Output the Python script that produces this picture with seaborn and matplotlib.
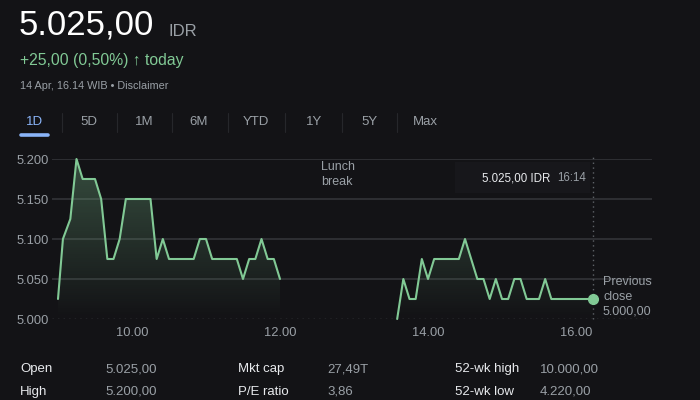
import numpy as np
import pandas as pd
import seaborn as sns
import matplotlib.pyplot as plt
from matplotlib.lines import Line2D
from matplotlib.patches import Rectangle
from matplotlib.colors import to_rgb

# intraday prices (IDR), 14 Apr
morning_time = ["09:00", "09:04", "09:10", "09:15", "09:20", "09:30", "09:35", "09:40", "09:45",
                "09:50", "09:55", "10:15", "10:20", "10:25", "10:30", "10:50", "10:55", "11:00",
                "11:05", "11:25", "11:30", "11:35", "11:40", "11:45", "11:50", "11:55", "12:00"]
morning_price = [5025, 5100, 5125, 5200, 5175, 5175, 5150, 5075, 5075,
                 5100, 5150, 5150, 5075, 5100, 5075, 5075, 5100, 5100,
                 5075, 5075, 5050, 5075, 5075, 5100, 5075, 5075, 5050]
afternoon_time = ["13:35", "13:40", "13:45", "13:50", "13:55", "14:00", "14:05", "14:25", "14:30",
                  "14:35", "14:40", "14:45", "14:50", "14:55", "15:00", "15:05", "15:10", "15:15",
                  "15:20", "15:30", "15:35", "15:40", "16:14"]
afternoon_price = [5000, 5050, 5025, 5025, 5075, 5050, 5075, 5075, 5100,
                   5075, 5050, 5050, 5025, 5050, 5025, 5025, 5050, 5050,
                   5025, 5025, 5050, 5025, 5025]
prev_close = 5000
y_ticks = [5000, 5050, 5100, 5150, 5200]
y_labels = ["5.000", "5.050", "5.100", "5.150", "5.200"]
x_ticks = [10, 12, 14, 16]
x_labels = ["10.00", "12.00", "14.00", "16.00"]
tabs = ["1D", "5D", "1M", "6M", "YTD", "1Y", "5Y", "Max"]
stats_left = [("Open", "5.025,00"), ("High", "5.200,00")]
stats_mid = [("Mkt cap", "27,49T"), ("P/E ratio", "3,86")]
stats_right = [("52-wk high", "10.000,00"), ("52-wk low", "4.220,00")]

BG = "#131316"
GREEN = "#81c995"
GREY = "#9aa0a6"
GRID = "#36373b"
WHITE = "#e8eaed"


def to_hours(times):
    return [int(t[:2]) + int(t[3:]) / 60 for t in times]


df = pd.concat([
    pd.DataFrame({"hour": to_hours(morning_time), "price": morning_price, "session": "am"}),
    pd.DataFrame({"hour": to_hours(afternoon_time), "price": afternoon_price, "session": "pm"}),
])

sns.set_theme(style="dark")
plt.rcParams["font.family"] = ["Liberation Sans", "DejaVu Sans"]

fig = plt.figure(figsize=(7, 4), dpi=100, facecolor=BG)


def px(x, y):
    return x / 700, 1 - y / 400


ax = fig.add_axes([52 / 700, 81 / 400, 600 / 700, 160 / 400], facecolor=BG)
ax.set_xlim(8.919, 17.027)
ax.set_ylim(5000, 5200)

# grid
for v in y_ticks[1:]:
    ax.axhline(v, color=GRID, lw=1.1, zorder=0)
ax.axhline(prev_close, color="#5f6368", lw=1.0, ls=(0, (1, 3)), zorder=0)

# gradient fill under each session
grad = np.zeros((100, 1, 4))
grad[..., :3] = to_rgb(GREEN)
grad[..., 3] = np.linspace(0.32, 0.0, 100)[:, None]
for s, g in df.groupby("session"):
    poly = ax.fill_between(g["hour"], g["price"], prev_close, color="none", lw=0)
    im = ax.imshow(grad, extent=[8.9, 17.1, 5000, 5200], aspect="auto", origin="upper", zorder=1)
    im.set_clip_path(poly.get_paths()[0], transform=ax.transData)

sns.lineplot(data=df, x="hour", y="price", units="session", estimator=None,
             color=GREEN, lw=1.5, ax=ax, zorder=3, clip_on=False)
ax.plot(df["hour"].iloc[-1], df["price"].iloc[-1], "o", color=GREEN, ms=7, zorder=4)

# cursor line at 16:14
ax.axvline(df["hour"].iloc[-1], ymin=0, ymax=1.03, color="#5f6368", lw=1, ls=(0, (1, 2.5)),
           zorder=2, clip_on=False)

ax.set_xticks(x_ticks)
ax.set_xticklabels(x_labels)
ax.set_yticks(y_ticks)
ax.set_yticklabels(y_labels)
ax.tick_params(axis="x", colors="#5f6368", labelcolor=GREY, labelsize=9.3, length=3, width=1, pad=3)
ax.tick_params(axis="y", labelcolor=GREY, labelsize=9.3, length=0, pad=2)
ax.set_xlabel("")
ax.set_ylabel("")
ax.grid(False)
for sp in ax.spines.values():
    sp.set_visible(False)

# header
fig.text(*px(19, 25), "5.025,00", color="#ffffff", fontsize=25, va="center")
fig.text(*px(168, 32), "IDR", color=GREY, fontsize=12, va="center")
fig.text(*px(20, 60), "+25,00 (0,50%) \u2191 today", color=GREEN, fontsize=11.3, va="center")
fig.text(*px(20, 86), "14 Apr, 16.14 WIB \u2022 Disclaimer", color=GREY, fontsize=7.8, va="center")

tab_x = [35, 89, 144, 199, 256, 314, 369, 425]
for i, (t, x) in enumerate(zip(tabs, tab_x)):
    fig.text(*px(x, 122), t, color="#8ab4f8" if i == 0 else GREY, fontsize=9.5,
             ha="center", va="center")
    if i > 0:
        sx = (tab_x[i - 1] + x) / 2
        fig.add_artist(Line2D([sx / 700] * 2, [1 - 113 / 400, 1 - 132 / 400], color="#26272b", lw=0.8))
fig.add_artist(Line2D([21 / 700, 48 / 700], [1 - 135 / 400] * 2, color="#8ab4f8", lw=2.6,
                      solid_capstyle="round"))

# annotations
for txt, y in zip(["Lunch", "break"], [167, 182]):
    fig.text(*px(321, y), txt, color=GREY, fontsize=9, va="center")
fig.add_artist(Rectangle(px(455, 193), 135 / 700, 31 / 400, facecolor="#17171b", edgecolor="none"))
fig.text(*px(482, 178), "5.025,00 IDR", color=WHITE, fontsize=8.3, va="center")
fig.text(*px(557, 178), "16:14", color=GREY, fontsize=8.3, va="center")
for txt, y in zip(["Previous", "close", "5.000,00"], [282, 297, 312]):
    fig.text(*px(603, y), txt, color=GREY, fontsize=9, va="center")

# stats table
for col, (lx, vx) in zip([stats_left, stats_mid, stats_right], [(20, 105), (238, 327), (455, 540)]):
    for (lab, val), y in zip(col, [369, 392]):
        fig.text(*px(lx, y), lab, color=WHITE, fontsize=9.5, va="center")
        fig.text(*px(vx, y), val, color=GREY, fontsize=9.5, va="center")

fig.savefig("out.png", dpi=100, facecolor=BG)
